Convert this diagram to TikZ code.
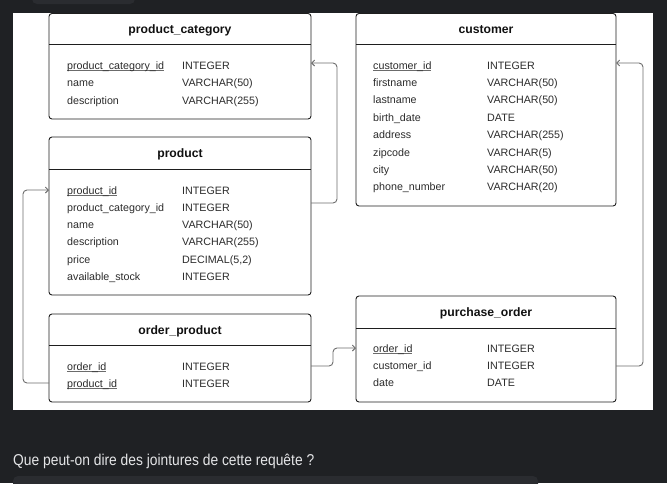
\documentclass[tikz,border=0pt]{standalone}
\usepackage{fontspec}
\setmainfont{Liberation Sans}
\newfontfamily\qfont[FakeStretch=0.88]{Liberation Sans}
\usetikzlibrary{arrows.meta}
\definecolor{bgc}{HTML}{1F2124}
\definecolor{barc}{HTML}{2A2C30}
\definecolor{tblc}{HTML}{1E1E1E}
\definecolor{ttlc}{HTML}{111111}
\definecolor{fldc}{HTML}{2C2C2C}
\definecolor{connc}{HTML}{6E6E6E}
\definecolor{qc}{HTML}{E4E5E7}
\newcommand\pkey[1]{\setbox0\hbox{#1}\rlap{\color{fldc!70}\rule[-1.7pt]{\wd0}{0.6pt}}\box0}
\begin{document}
\begin{tikzpicture}[x=1pt,y=-1pt,
  tbl/.style={draw=tblc, line width=0.9pt, rounded corners=3pt, fill=white, inner sep=0pt, outer sep=0pt, anchor=north west},
  hline/.style={draw=tblc, line width=0.9pt},
  ttl/.style={font=\fontsize{12.2}{14}\selectfont\bfseries, text=ttlc, anchor=base, inner sep=0pt},
  fld/.style={font=\fontsize{10.7}{13}\selectfont, text=fldc, anchor=base west, inner sep=0pt},
  conn/.style={draw=connc, line width=0.9pt, rounded corners=4pt, -{Straight Barb[length=3pt,width=6pt]}}]
\useasboundingbox (0,0) rectangle (667,483);
\fill[bgc] (0,0) rectangle (667,483);
\fill[barc, rounded corners=5pt] (32,-6) rectangle (135,4);
\fill[barc, rounded corners=5pt] (13,476) rectangle (538,492);
\fill[white] (13,13) rectangle (653,410);

% product_category
\node[tbl, minimum width=262pt, minimum height=105.5pt] (pc) at (49,13.5) {};
\draw[hline] (pc.west |- 0,44) -- (pc.east |- 0,44);
\node[ttl] (pct) at (180,33.5) {product\_category};
\node[fld] (pcn1) at (67,69) {\pkey{product\_category\_id}};
\node[fld] (pct1) at (182,69) {INTEGER};
\node[fld] (pcn2) at (67,86.5) {name};
\node[fld] (pct2) at (182,86.5) {VARCHAR(50)};
\node[fld] (pcn3) at (67,104) {description};
\node[fld] (pct3) at (182,104) {VARCHAR(255)};

% customer
\node[tbl, minimum width=260pt, minimum height=192.5pt] (cu) at (356,13.5) {};
\draw[hline] (cu.west |- 0,44) -- (cu.east |- 0,44);
\node[ttl] (cut) at (486,33.5) {customer};
\node[fld] (cun1) at (373,69) {\pkey{customer\_id}};
\node[fld] (cut1) at (487,69) {INTEGER};
\node[fld] (cun2) at (373,86.4) {firstname};
\node[fld] (cut2) at (487,86.4) {VARCHAR(50)};
\node[fld] (cun3) at (373,103.8) {lastname};
\node[fld] (cut3) at (487,103.8) {VARCHAR(50)};
\node[fld] (cun4) at (373,121.2) {birth\_date};
\node[fld] (cut4) at (487,121.2) {DATE};
\node[fld] (cun5) at (373,138.6) {address};
\node[fld] (cut5) at (487,138.6) {VARCHAR(255)};
\node[fld] (cun6) at (373,156) {zipcode};
\node[fld] (cut6) at (487,156) {VARCHAR(5)};
\node[fld] (cun7) at (373,173.4) {city};
\node[fld] (cut7) at (487,173.4) {VARCHAR(50)};
\node[fld] (cun8) at (373,190.8) {phone\_number};
\node[fld] (cut8) at (487,190.8) {VARCHAR(20)};

% product
\node[tbl, minimum width=262pt, minimum height=158pt] (pr) at (49,137) {};
\draw[hline] (pr.west |- 0,169) -- (pr.east |- 0,169);
\node[ttl] (prt) at (180,157.3) {product};
\node[fld] (prn1) at (67,194) {\pkey{product\_id}};
\node[fld] (prt1) at (182,194) {INTEGER};
\node[fld] (prn2) at (67,211.3) {product\_category\_id};
\node[fld] (prt2) at (182,211.3) {INTEGER};
\node[fld] (prn3) at (67,228.6) {name};
\node[fld] (prt3) at (182,228.6) {VARCHAR(50)};
\node[fld] (prn4) at (67,245.9) {description};
\node[fld] (prt4) at (182,245.9) {VARCHAR(255)};
\node[fld] (prn5) at (67,263.2) {price};
\node[fld] (prt5) at (182,263.2) {DECIMAL(5,2)};
\node[fld] (prn6) at (67,280.5) {available\_stock};
\node[fld] (prt6) at (182,280.5) {INTEGER};

% order_product
\node[tbl, minimum width=262pt, minimum height=88pt] (op) at (49,314) {};
\draw[hline] (op.west |- 0,345) -- (op.east |- 0,345);
\node[ttl] (opt) at (180,334.5) {order\_product};
\node[fld] (opn1) at (67,370) {\pkey{order\_id}};
\node[fld] (opt1) at (182,370) {INTEGER};
\node[fld] (opn2) at (67,387) {\pkey{product\_id}};
\node[fld] (opt2) at (182,387) {INTEGER};

% purchase_order
\node[tbl, minimum width=260pt, minimum height=106pt] (po) at (356,296) {};
\draw[hline] (po.west |- 0,328) -- (po.east |- 0,328);
\node[ttl] (pot) at (486,316.7) {purchase\_order};
\node[fld] (pon1) at (373,352) {\pkey{order\_id}};
\node[fld] (pot1) at (487,352) {INTEGER};
\node[fld] (pon2) at (373,369.4) {customer\_id};
\node[fld] (pot2) at (487,369.4) {INTEGER};
\node[fld] (pon3) at (373,386.8) {date};
\node[fld] (pot3) at (487,386.8) {DATE};

% connectors
\draw[conn] (pr.east |- 0,203) -- (337,203) -- (337,63) -- (pc.east |- 0,63);
\draw[conn] (po.east |- 0,366) -- (643,366) -- (643,63) -- (cu.east |- 0,63);
\draw[conn] (op.west |- 0,383) -- (23,383) -- (23,190) -- (pr.west |- 0,190);
\draw[conn] (op.east |- 0,366) -- (333,366) -- (333,348) -- (po.west |- 0,348);

% question
\node[font=\qfont\fontsize{15.7}{18}\selectfont, text=qc, anchor=base west, inner sep=0pt] (q) at (13,465) {Que peut-on dire des jointures de cette requête ?};
\end{tikzpicture}
\end{document}
